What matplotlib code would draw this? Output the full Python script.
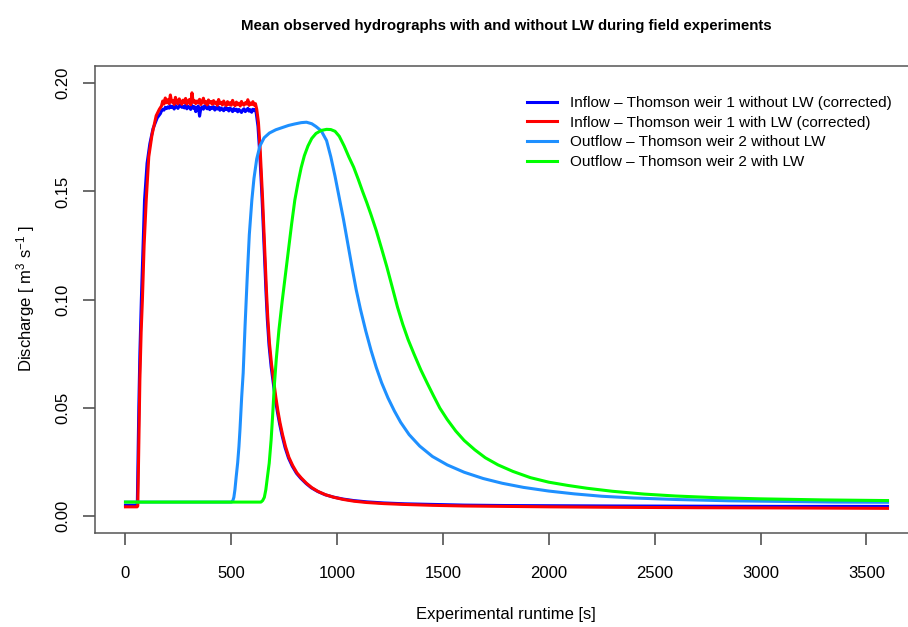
import numpy as np
import matplotlib
matplotlib.use('Agg')
import matplotlib.pyplot as plt

plt.rcParams['font.family'] = ['Liberation Sans', 'DejaVu Sans']
plt.rcParams['mathtext.fontset'] = 'custom'
plt.rcParams['mathtext.rm'] = 'Liberation Sans'
plt.rcParams['mathtext.it'] = 'Liberation Sans'

# Inflow - Thomson weir 1 without LW (corrected)
t_in_without = [0, 52, 56, 59, 63, 68, 75, 83, 90, 102, 115, 130, 150, 165]
q_in_without = [0.0047, 0.0047, 0.006, 0.025, 0.05, 0.075, 0.10, 0.125, 0.146, 0.163, 0.172, 0.179, 0.184, 0.186]
plateau_without = [
    187.2, 188.0, 187.6, 188.9, 188.3, 189.1, 188.5, 189.6, 188.8, 189.3,
    188.1, 189.8, 189.0, 188.4, 189.5, 190.2, 188.9, 189.3, 188.6, 189.9,
    188.2, 189.4, 188.8, 187.9, 189.7, 188.5, 189.2, 186.9, 188.8, 189.5,
    184.8, 188.4, 189.1, 188.0, 189.6, 188.7, 188.2, 189.3, 187.8, 188.9,
    188.4, 189.2, 187.6, 188.8, 188.1, 189.0, 187.5, 188.6, 188.0, 187.3,
    188.7, 187.9, 188.4, 187.2, 188.6, 187.8, 186.9, 188.3, 187.5, 188.0,
    186.8, 187.9, 187.2, 186.5, 187.7, 188.2, 186.9, 187.6, 188.4, 187.1,
    187.8, 186.6, 188.0, 187.4, 187.9]
t_fall_without = [618, 626, 634, 640, 646, 652, 658, 664, 670, 678, 688, 698, 708, 718, 728, 740, 754, 770,
                  788, 808, 828, 853, 878, 908, 943, 983, 1028, 1078, 1140, 1220, 1320, 1450, 1600, 1800,
                  2000, 2300, 2700, 3100, 3600]
q_fall_without = [0.186, 0.180, 0.168, 0.157, 0.145, 0.131, 0.117, 0.103, 0.091, 0.079, 0.069, 0.0615, 0.054, 0.0478, 0.0425, 0.037, 0.0315, 0.0267,
                  0.0229, 0.0196, 0.0173, 0.0149, 0.0129, 0.0112, 0.0097, 0.0086, 0.0077, 0.0070, 0.0064, 0.0059, 0.0055, 0.0052, 0.0049, 0.0047,
                  0.0046, 0.0045, 0.0044, 0.0043, 0.0043]

# Inflow - Thomson weir 1 with LW (corrected)
t_in_with = [0, 55, 58, 60, 64, 68, 74, 80, 88, 98, 110, 125, 145, 160]
q_in_with = [0.0041, 0.0041, 0.0045, 0.015, 0.04, 0.063, 0.085, 0.10, 0.125, 0.146, 0.166, 0.176, 0.185, 0.188]
plateau_with = [
    189.5, 191.8, 190.4, 193.2, 191.0, 192.4, 190.6, 194.6, 191.3, 192.0,
    190.2, 193.5, 191.1, 190.5, 192.8, 191.6, 190.3, 192.2, 191.0, 193.0,
    190.4, 191.7, 192.5, 190.1, 195.6, 191.2, 192.0, 190.6, 191.8, 190.9,
    192.6, 190.2, 191.4, 193.1, 190.8, 191.5, 190.0, 192.3, 190.9, 191.6,
    190.3, 192.0, 190.7, 191.3, 189.8, 192.5, 190.6, 191.2, 190.0, 191.8,
    190.4, 189.7, 191.5, 190.2, 191.0, 189.9, 192.1, 190.5, 189.6, 191.3,
    190.1, 190.8, 189.5, 191.6, 190.3, 189.9, 191.0, 190.4, 192.4, 189.8,
    190.9, 190.2, 191.5, 189.9, 190.6]
t_fall_with = [620, 628, 636, 642, 648, 654, 660, 666, 672, 680, 690, 700, 710, 720, 730, 742, 756, 772,
               790, 810, 830, 855, 880, 910, 945, 985, 1030, 1080, 1140, 1220, 1320, 1450, 1600, 1800,
               2000, 2300, 2700, 3100, 3600]
q_fall_with = [0.188, 0.182, 0.170, 0.158, 0.146, 0.132, 0.118, 0.104, 0.092, 0.080, 0.070, 0.0625, 0.055, 0.0485, 0.043, 0.0375, 0.032, 0.027,
               0.0232, 0.0198, 0.0175, 0.0150, 0.0130, 0.0112, 0.0097, 0.0085, 0.0075, 0.0067, 0.0061, 0.0056, 0.0052, 0.0048, 0.0045, 0.0043,
               0.0041, 0.0039, 0.0037, 0.0036, 0.0034]

t_plateau = np.arange(170, 620, 6)

# Outflow - Thomson weir 2 without LW
t_out_without = [0, 500, 506, 512, 517, 523, 530, 536, 541, 549, 556, 565, 575, 585, 597, 607, 620, 635,
                 655, 680, 710, 740, 770, 800, 830, 855, 880, 900, 925, 950, 970, 990, 1010, 1030,
                 1050, 1070, 1090, 1110, 1135, 1160, 1185, 1210, 1240, 1270, 1300, 1340, 1390, 1450,
                 1520, 1600, 1690, 1780, 1880, 2000, 2120, 2250, 2400, 2600, 2850, 3100, 3350, 3600]
q_out_without = [0.0063, 0.0063, 0.0066, 0.0085, 0.012, 0.018, 0.0245, 0.032, 0.040, 0.055, 0.066, 0.088, 0.110, 0.130, 0.146, 0.156, 0.165, 0.171,
                 0.1748, 0.1770, 0.1785, 0.1795, 0.1805, 0.1812, 0.1818, 0.1820, 0.1813, 0.1800, 0.1780, 0.1735, 0.1660, 0.1570, 0.1470, 0.1370,
                 0.1260, 0.1150, 0.1045, 0.0955, 0.0855, 0.0765, 0.0685, 0.0615, 0.0545, 0.0485, 0.0432, 0.0375, 0.0322, 0.0274,
                 0.0235, 0.0201, 0.0172, 0.0150, 0.0131, 0.0114, 0.0101, 0.0090, 0.0082, 0.0075, 0.0069, 0.0066, 0.0063, 0.0062]

# Outflow - Thomson weir 2 with LW
t_out_with = [0, 640, 648, 656, 663, 672, 679, 688, 695, 703, 712, 725, 740, 755, 770, 785, 800, 815,
              830, 845, 862, 880, 900, 925, 950, 970, 990, 1010, 1033, 1055, 1078, 1100, 1120, 1140,
              1160, 1185, 1210, 1235, 1260, 1285, 1310, 1335, 1363, 1395, 1426, 1455, 1485, 1520,
              1560, 1600, 1650, 1700, 1760, 1830, 1913, 2000, 2090, 2180, 2300, 2450, 2600, 2800,
              3000, 3300, 3600]
q_out_with = [0.0063, 0.0063, 0.0070, 0.0085, 0.012, 0.019, 0.0243, 0.035, 0.046, 0.060, 0.072, 0.086, 0.099, 0.111, 0.123, 0.135, 0.146, 0.154,
              0.161, 0.1665, 0.1710, 0.1745, 0.1768, 0.1782, 0.1787, 0.1786, 0.1778, 0.1755, 0.1710, 0.1660, 0.1612, 0.1555, 0.1500, 0.1448,
              0.1392, 0.1318, 0.1235, 0.1150, 0.1058, 0.0965, 0.0885, 0.0815, 0.0748, 0.0675, 0.0612, 0.0555, 0.0498, 0.0445,
              0.0392, 0.0348, 0.0305, 0.0268, 0.0235, 0.0205, 0.0176, 0.0155, 0.0140, 0.0127, 0.0113, 0.0100, 0.0091, 0.0083,
              0.0078, 0.0073, 0.0070]

labels = ['Inflow \u2013 Thomson weir 1 without LW (corrected)',
          'Inflow \u2013 Thomson weir 1 with LW (corrected)',
          'Outflow \u2013 Thomson weir 2 without LW',
          'Outflow \u2013 Thomson weir 2 with LW']
colors = ['#0000FF', '#FF0000', '#1E90FF', '#00FF00']

# ganze Reihen zusammensetzen
t_without = list(t_in_without) + list(t_plateau) + t_fall_without
q_without = q_in_without + [v / 1000 for v in plateau_without] + q_fall_without
t_with = list(t_in_with) + list(t_plateau) + t_fall_with
q_with = q_in_with + [v / 1000 for v in plateau_with] + q_fall_with

fig = plt.figure(figsize=(9.08, 6.27), dpi=100)
W, H = 908, 627
ax = fig.add_axes([95 / W, 1 - 533 / H, (918 - 95) / W, (533 - 66) / H])

series = [(t_without, q_without), (t_with, q_with),
          (t_out_without, q_out_without), (t_out_with, q_out_with)]
for (t, q), c, lab in zip(series, colors, labels):
    ax.plot(t, q, color=c, lw=2.2, label=lab, solid_joinstyle='round')

ax.set_xlim(-144, 3744)
ax.set_ylim(-0.008, 0.208)
ax.set_xticks(np.arange(0, 3501, 500))
ax.set_yticks([0.0, 0.05, 0.10, 0.15, 0.20])
ax.set_yticklabels(['0.00', '0.05', '0.10', '0.15', '0.20'], rotation=90, va='center')

for s in ax.spines.values():
    s.set_color('#555555')
    s.set_linewidth(1.1)
ax.tick_params(direction='out', length=8.6, width=1.1, color='#444444', labelsize=12)
ax.tick_params(axis='x', pad=15)
ax.tick_params(axis='y', pad=9)

fig.text(506 / W, 1 - 30 / H, 'Mean observed hydrographs with and without LW during field experiments',
         ha='center', va='baseline', fontsize=10.8, fontweight='bold')
fig.text(506 / W, 1 - 619 / H, 'Experimental runtime [s]', ha='center', va='baseline', fontsize=12)
fig.text(31 / W, 1 - 299 / H, r'Discharge [ m$^3$ s$^{-1}$ ]', rotation=90, rotation_mode='anchor',
         ha='center', va='baseline', fontsize=12)

ax.legend(loc='upper left', bbox_to_anchor=(527 / W, 1 - 96 / H), bbox_transform=fig.transFigure,
          frameon=False, fontsize=11, handlelength=1.95, handletextpad=0.85,
          labelspacing=0.37, borderpad=0, borderaxespad=0)

fig.savefig('out.png', dpi=100)
